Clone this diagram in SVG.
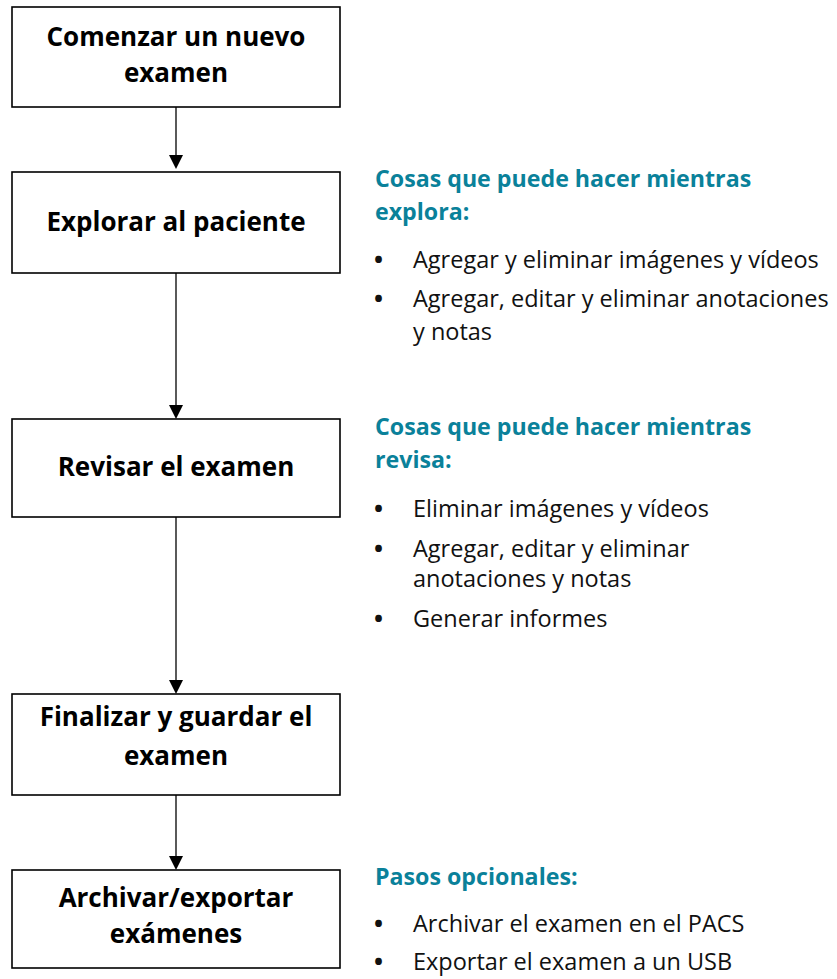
<svg xmlns="http://www.w3.org/2000/svg" width="837" height="979" viewBox="0 0 837 979">
<style>
.box{fill:#fff;stroke:#000;stroke-width:1.6}
.bt{font-family:"Open Sans","Noto Sans","Liberation Sans",sans-serif;font-weight:bold;font-size:26px;fill:#000;text-anchor:middle}
.h{font-family:"Open Sans","Noto Sans","Liberation Sans",sans-serif;font-weight:bold;font-size:23.2px;fill:#0a819a}
.b{font-family:"Open Sans","Noto Sans","Liberation Sans",sans-serif;font-size:23.5px;fill:#111}
.d{font-family:"Open Sans","Noto Sans","Liberation Sans",sans-serif;font-weight:bold;font-size:24px;fill:#111}
.c{stroke:#000;stroke-width:1.3;fill:none}
</style>
<g id="connectors">
<path class="c" d="M176,107 V155"/><path d="M169,155 L183,155 L176,169 Z"/>
<path class="c" d="M176,273 V405"/><path d="M169,405 L183,405 L176,419 Z"/>
<path class="c" d="M176,517 V680"/><path d="M169,680 L183,680 L176,694 Z"/>
<path class="c" d="M176,795 V856"/><path d="M169,856 L183,856 L176,870 Z"/>
</g>
<g id="n1"><rect class="box" x="12" y="7" width="328" height="100"/>
<text class="bt" x="176" y="46">Comenzar un nuevo</text><text class="bt" x="176" y="82">examen</text></g>
<g id="n2"><rect class="box" x="12" y="172" width="328" height="101"/>
<text class="bt" x="176" y="231">Explorar al paciente</text></g>
<g id="n3"><rect class="box" x="12" y="419" width="328" height="98"/>
<text class="bt" x="176" y="476">Revisar el examen</text></g>
<g id="n4"><rect class="box" x="12" y="694" width="328" height="101"/>
<text class="bt" x="176" y="726">Finalizar y guardar el</text><text class="bt" x="176" y="765">examen</text></g>
<g id="n5"><rect class="box" x="12" y="870" width="328" height="98"/>
<text class="bt" x="176" y="907">Archivar/exportar</text><text class="bt" x="176" y="943">exámenes</text></g>
<g id="notes1">
<text class="h" x="375" y="187">Cosas que puede hacer mientras</text>
<text class="h" x="375" y="220">explora:</text>
<text class="d" x="374" y="268">•</text><text class="b" x="413" y="268">Agregar y eliminar imágenes y vídeos</text>
<text class="d" x="374" y="307">•</text><text class="b" x="413" y="307">Agregar, editar y eliminar anotaciones</text>
<text class="b" x="413" y="340">y notas</text>
</g>
<g id="notes2">
<text class="h" x="375" y="435">Cosas que puede hacer mientras</text>
<text class="h" x="375" y="468">revisa:</text>
<text class="d" x="374" y="517">•</text><text class="b" x="413" y="517">Eliminar imágenes y vídeos</text>
<text class="d" x="374" y="557">•</text><text class="b" x="413" y="557">Agregar, editar y eliminar</text>
<text class="b" x="413" y="587">anotaciones y notas</text>
<text class="d" x="374" y="627">•</text><text class="b" x="413" y="627">Generar informes</text>
</g>
<g id="notes3">
<text class="h" x="375" y="885">Pasos opcionales:</text>
<text class="d" x="374" y="932">•</text><text class="b" x="413" y="932">Archivar el examen en el PACS</text>
<text class="d" x="374" y="970">•</text><text class="b" x="413" y="970">Exportar el examen a un USB</text>
</g>
</svg>
